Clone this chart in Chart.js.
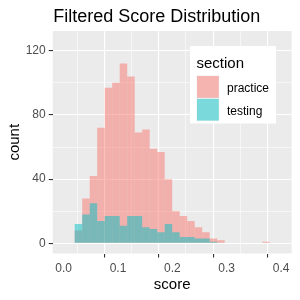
<!DOCTYPE html>
<html>
<head>
<meta charset="utf-8">
<script src="https://cdn.jsdelivr.net/npm/chart.js@4.4.0/dist/chart.umd.min.js"></script>
<style>
  html, body { margin: 0; padding: 0; background: #fff; }
  canvas { display: block; }
</style>
</head>
<body>
<canvas id="chart" width="300" height="300"></canvas>
<script>
// Histogram bins (centre of each bin, score units)
const binMid = [0.0272, 0.0410, 0.0548, 0.0686, 0.0824, 0.0962, 0.1100, 0.1238, 0.1376,
                0.1514, 0.1652, 0.1790, 0.1928, 0.2066, 0.2204, 0.2342, 0.2480, 0.2618,
                0.2756, 0.2894, 0.3032, 0.3170, 0.3308, 0.3446, 0.3584, 0.3722];
const practiceCounts = [8, 28, 42, 72, 97, 100, 112, 104, 69, 71, 59, 57, 40, 20,
                        17, 14, 10, 7, 3, 2, 0, 0, 0, 0, 0, 1];
const testingCounts = [12, 18, 25, 14, 17, 17, 11, 17, 17, 10, 9, 7, 12, 7,
                       4, 4, 3, 3, 1, 0, 0, 0, 0, 0, 0, 0];
const sections = ['practice', 'testing'];

const xMajor = [0, 0.1, 0.2, 0.3, 0.4];
const xMinor = [0.05, 0.15, 0.25, 0.35];
const yMajor = [0, 40, 80, 120];
const yMinor = [20, 60, 100];

const colors = {
    panel: '#EBEBEB',
    grid: '#FFFFFF',
    tick: '#333333',
    tickText: '#4D4D4D',
    text: '#000000',
    keyBg: '#F2F2F2',
    practice: 'rgba(248, 118, 109, 0.5)',
    testing: 'rgba(0, 191, 196, 0.5)'
};
const family = "'Liberation Sans', Arial, sans-serif";

const isMajor = (list, ctx) => ctx.tick && list.includes(ctx.tick.value);

// grey panel behind the grid
const panelBg = {
    id: 'panelBg',
    beforeDraw(chart) {
        const { ctx, chartArea: a } = chart;
        ctx.save();
        ctx.fillStyle = colors.panel;
        ctx.fillRect(a.left, a.top, a.right - a.left, a.bottom - a.top);
        ctx.restore();
    }
};

// plot title + inside legend, ggplot style
const decorations = {
    id: 'decorations',
    afterDraw(chart) {
        const { ctx, chartArea: a } = chart;
        ctx.save();
        ctx.fillStyle = colors.text;
        ctx.textBaseline = 'alphabetic';
        ctx.font = `18px ${family}`;
        ctx.fillText('Filtered Score Distribution', a.left + 0.5, 22);

        // legend box
        ctx.fillStyle = '#FFFFFF';
        ctx.fillRect(190, 46, 86, 77.5);
        ctx.fillStyle = colors.text;
        ctx.font = `15px ${family}`;
        ctx.fillText('section', 196.5, 67.5);

        const fills = [colors.practice, colors.testing];
        ctx.font = `12px ${family}`;
        sections.forEach((name, i) => {
            const y = 75.5 + i * 22.8;
            ctx.fillStyle = colors.keyBg;
            ctx.fillRect(196.5, y, 22.8, 22.8);
            ctx.fillStyle = fills[i];
            ctx.fillRect(197, y + 0.5, 21.8, 21.8);
            ctx.fillStyle = colors.text;
            ctx.fillText(name, 227, y + 16.5);
        });
        ctx.restore();
    }
};

new Chart(document.getElementById('chart'), {
    type: 'bar',
    data: {
        datasets: [
            {
                label: sections[0],
                data: binMid.map((x, i) => ({ x, y: practiceCounts[i] })),
                backgroundColor: colors.practice,
                order: 1
            },
            {
                label: sections[1],
                data: binMid.map((x, i) => ({ x, y: testingCounts[i] })),
                backgroundColor: colors.testing,
                order: 0
            }
        ]
    },
    options: {
        responsive: false,
        animation: false,
        devicePixelRatio: 1,
        layout: { padding: { top: 31, right: 8.3, bottom: 0, left: 0 } },
        datasets: {
            bar: {
                grouped: false,
                barPercentage: 1,
                categoryPercentage: 1,
                borderWidth: 0,
                inflateAmount: 0
            }
        },
        plugins: {
            legend: { display: false },
            title: { display: false },
            tooltip: { enabled: false }
        },
        scales: {
            x: {
                type: 'linear',
                min: -0.0202,
                max: 0.4196,
                bounds: 'data',
                offset: false,
                afterBuildTicks: (s) => {
                    s.ticks = [...xMajor, ...xMinor].sort((a, b) => a - b).map(v => ({ value: v }));
                },
                afterFit: (s) => { s.height = 46.5; },
                border: { display: false },
                grid: {
                    color: colors.grid,
                    lineWidth: (ctx) => isMajor(xMajor, ctx) ? 1.1 : 0.55,
                    tickColor: (ctx) => isMajor(xMajor, ctx) ? colors.tick : 'rgba(0,0,0,0)',
                    tickLength: 4,
                    tickWidth: 1.1
                },
                ticks: {
                    autoSkip: false,
                    maxRotation: 0,
                    padding: 4,
                    color: colors.tickText,
                    font: { family, size: 12 },
                    callback: (v) => xMajor.includes(v) ? v.toFixed(1) : ''
                },
                title: {
                    display: true,
                    text: 'score',
                    color: colors.text,
                    font: { family, size: 15 },
                    padding: { top: 0, bottom: 6 }
                }
            },
            y: {
                type: 'linear',
                min: -6.3,
                max: 132.3,
                bounds: 'data',
                afterBuildTicks: (s) => {
                    s.ticks = [...yMajor, ...yMinor].sort((a, b) => a - b).map(v => ({ value: v }));
                },
                afterFit: (s) => { s.width = 52.7; },
                border: { display: false },
                grid: {
                    color: colors.grid,
                    lineWidth: (ctx) => isMajor(yMajor, ctx) ? 1.1 : 0.55,
                    tickColor: (ctx) => isMajor(yMajor, ctx) ? colors.tick : 'rgba(0,0,0,0)',
                    tickLength: 4,
                    tickWidth: 1.1
                },
                ticks: {
                    autoSkip: false,
                    padding: 3,
                    color: colors.tickText,
                    font: { family, size: 12 },
                    callback: (v) => yMajor.includes(v) ? String(v) : ''
                },
                title: {
                    display: true,
                    text: 'count',
                    color: colors.text,
                    font: { family, size: 15 },
                    padding: { top: 6, bottom: 0 }
                }
            }
        }
    },
    plugins: [panelBg, decorations]
});
</script>
</body>
</html>
